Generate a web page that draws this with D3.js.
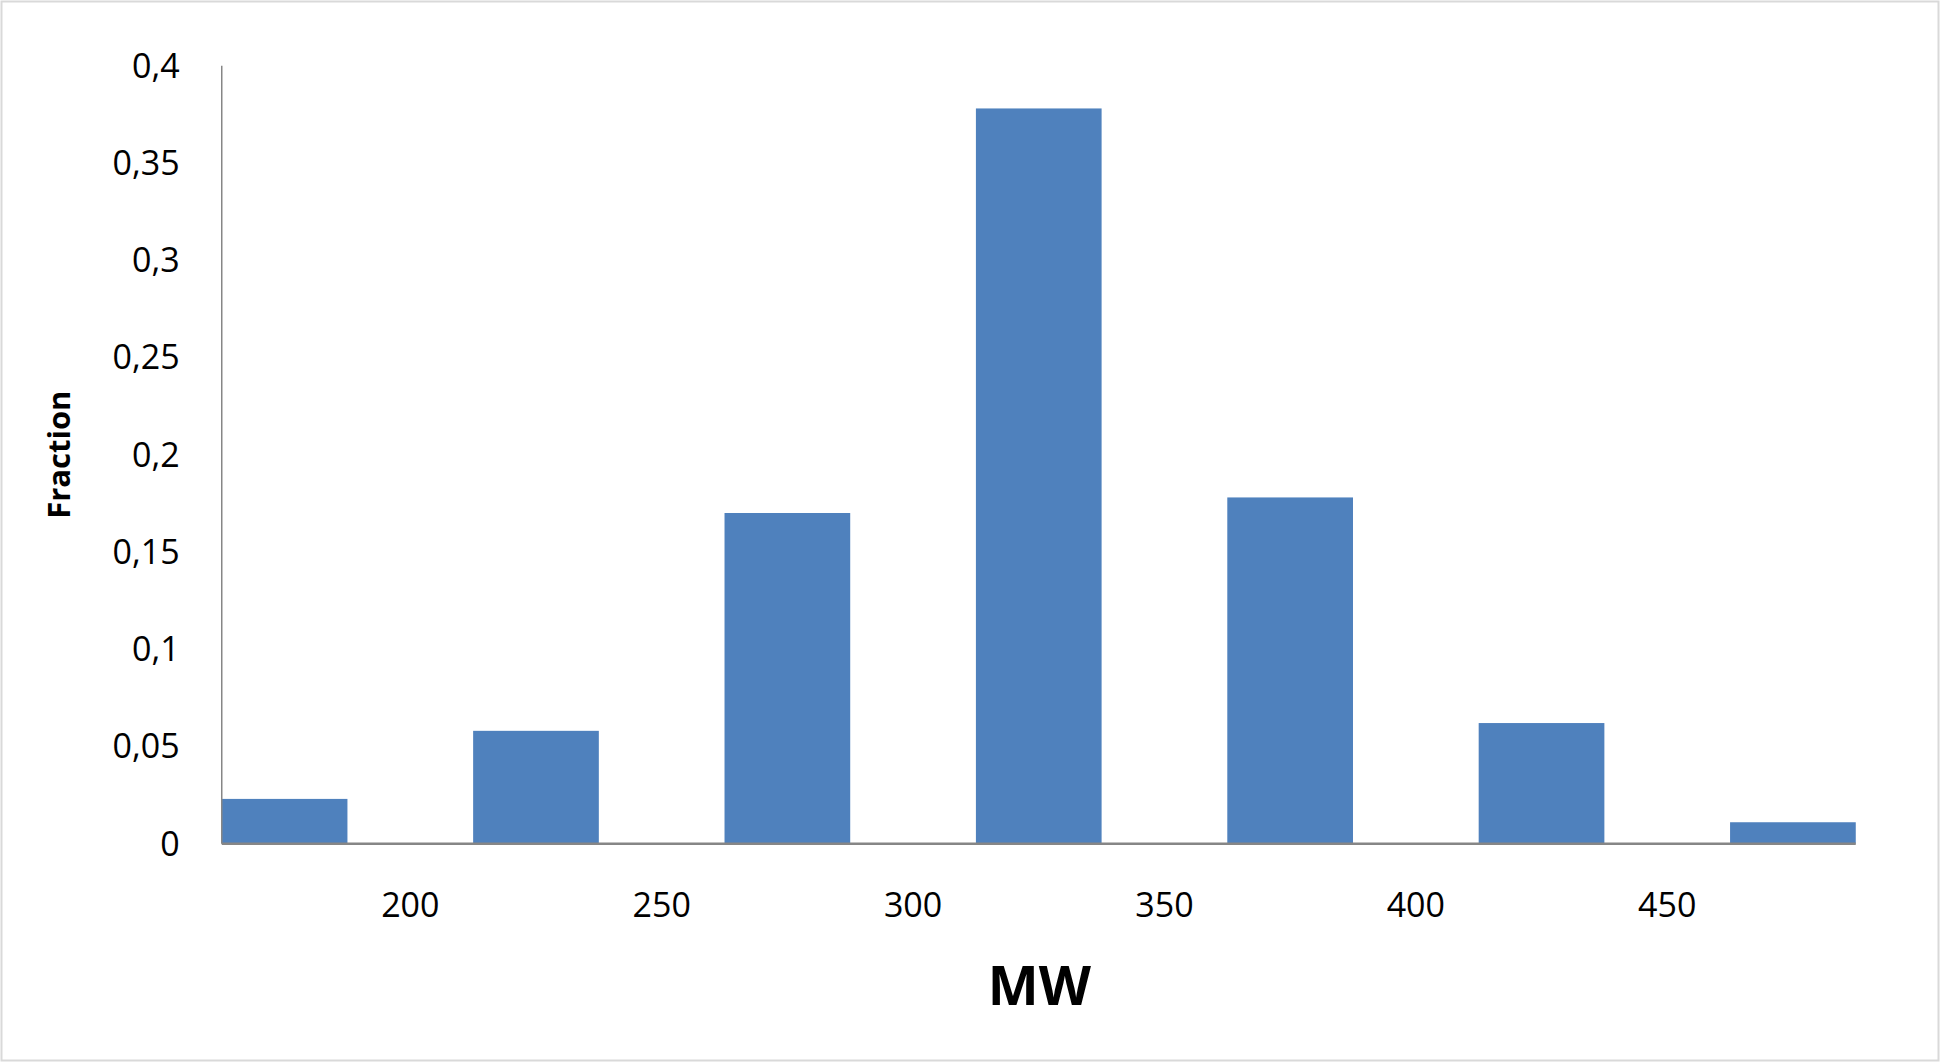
<!DOCTYPE html>
<html><head><meta charset="utf-8">
<script src="https://cdn.jsdelivr.net/npm/d3@7.9.0/dist/d3.min.js"></script>
<style>body{margin:0;background:#fff}svg{display:block}</style></head>
<body><svg id="chart" width="1940" height="1062"></svg>
<script>
// Data
const mwBins = [175, 225, 275, 325, 375, 425, 475];
const fractions = [0.023, 0.058, 0.17, 0.378, 0.178, 0.062, 0.011];
const xTicks = [200, 250, 300, 350, 400, 450];
const yTicks = [0, 0.05, 0.1, 0.15, 0.2, 0.25, 0.3, 0.35, 0.4];

const k = 1940 / 1566;
const svg = d3.select('#chart');
const font = '"Open Sans", "Liberation Sans", sans-serif';

svg.append('rect').attr('x', 1.5).attr('y', 1.5).attr('width', 1937).attr('height', 1059)
  .attr('fill', 'none').attr('stroke', '#d9d9d9').attr('stroke-width', 2);

const x = d3.scaleLinear().domain([162.5, 487.5]).range([179 * k, 1498 * k]);
const y = d3.scaleLinear().domain([0, 0.4]).range([681 * k, 53 * k]);

// bars
svg.selectAll('rect.bar').data(mwBins).enter().append('rect')
  .attr('class', 'bar')
  .attr('x', d => x(d - 12.5))
  .attr('width', d => x(d + 12.5) - x(d - 12.5))
  .attr('y', (d, i) => y(fractions[i]))
  .attr('height', (d, i) => y(0) - y(fractions[i]))
  .attr('fill', '#4f81bd');

// y axis
svg.append('line').attr('x1', x(162.5)).attr('x2', x(162.5))
  .attr('y1', y(0.4)).attr('y2', y(0)).attr('stroke', '#868686').attr('stroke-width', 1.5);
svg.selectAll('text.yt').data(yTicks).enter().append('text')
  .attr('x', 145 * k).attr('y', d => y(d)).attr('dy', '0.35em')
  .attr('text-anchor', 'end').attr('font-family', font).attr('font-size', 34)
  .text(d => String(d).replace('.', ','));

// x axis
svg.append('line').attr('x1', x(162.5)).attr('x2', x(487.5))
  .attr('y1', y(0)).attr('y2', y(0)).attr('stroke', '#868686').attr('stroke-width', 2.5);
svg.selectAll('text.xt').data(xTicks).enter().append('text')
  .attr('x', d => x(d)).attr('y', 731 * k).attr('dy', '0.35em')
  .attr('text-anchor', 'middle').attr('font-family', font).attr('font-size', 34)
  .text(d => d);

// titles
svg.append('text').attr('x', 839 * k).attr('y', 796 * k).attr('dy', '0.35em')
  .attr('text-anchor', 'middle').attr('font-family', font).attr('font-weight', 'bold')
  .attr('font-size', 54).text('MW');
svg.append('text').attr('transform', `translate(${48 * k},${367 * k}) rotate(-90)`)
  .attr('dy', '0.35em').attr('text-anchor', 'middle').attr('font-family', font)
  .attr('font-weight', 'bold').attr('font-size', 31).text('Fraction');
</script></body></html>
